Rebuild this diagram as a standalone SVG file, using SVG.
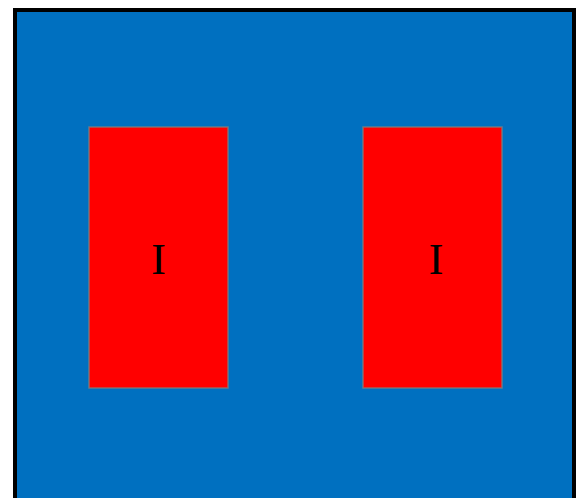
<svg xmlns="http://www.w3.org/2000/svg" width="576" height="498" viewBox="0 0 576 498">
<style>
.core{fill:#0070c0;stroke:#000;stroke-width:4}
.coil{fill:#ff0000;stroke:#7f7f7f;stroke-width:1.5;stroke-opacity:0.8}
.lbl{font-family:"Liberation Serif",serif;font-size:44px;fill:#000;text-anchor:middle}
</style>
<rect width="576" height="498" fill="#fff"/>
<g id="core"><rect class="core" x="15" y="10" width="559" height="500"/></g>
<g id="coil-left"><rect class="coil" x="89" y="127" width="139" height="261"/><text class="lbl" x="158.5" y="274">I</text></g>
<g id="coil-right"><rect class="coil" x="363" y="127" width="139" height="261"/><text class="lbl" x="436" y="274">I</text></g>
<g id="connectors"/>
</svg>
